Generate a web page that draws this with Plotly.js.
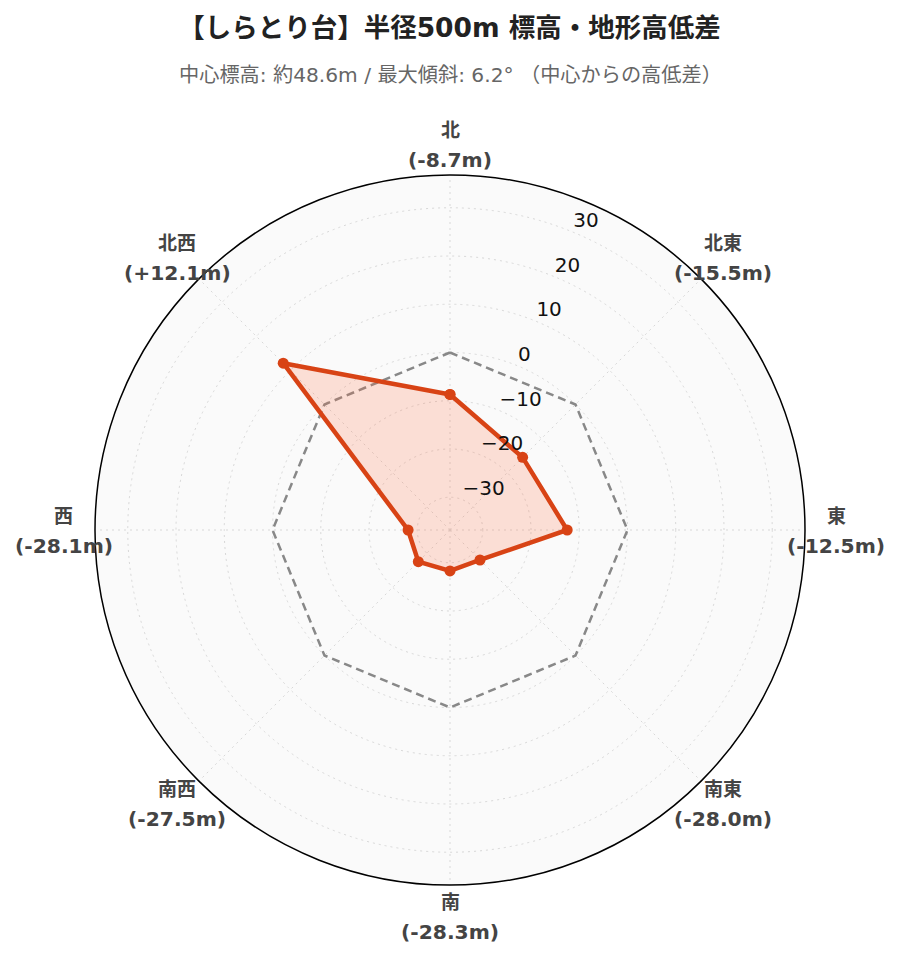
<!DOCTYPE html>
<html><head><meta charset="utf-8">
<script src="https://cdn.plot.ly/plotly-3.0.1.min.js"></script>
<style>body{margin:0;background:#fff}#chart{width:899px;height:962px}</style>
</head><body><div id="chart"></div>
<script>
const directions = ['北','北東','東','南東','南','南西','西','北西'];
const directionAngles = [0, 45, 90, 135, 180, 225, 270, 315];
const diffs = [-8.7, -15.5, -12.5, -28.0, -28.3, -27.5, -28.1, 12.1];
const reference = [0, 0, 0, 0, 0, 0, 0, 0];
const radialTicks = [-30, -20, -10, 0, 10, 20, 30];
const titleText = '【しらとり台】半径500m 標高・地形高低差';
const subtitleText = '中心標高: 約48.6m / 最大傾斜: 6.2° （中心からの高低差）';

const maxAbs = Math.max(...diffs.map(Math.abs));
const rMax = maxAbs * 1.3;
const tickLabelAngle = 22.5;

const fmt = v => '(' + (v > 0 ? '+' : '') + v.toFixed(1) + 'm)';
const close = a => a.concat([a[0]]);
const FONT = 'DejaVu Sans, Noto Sans CJK JP, sans-serif';

const traces = [
  {type:'scatterpolar', r: close(reference), theta: close(directionAngles), mode:'lines',
   line:{color:'#888', width:2.5, dash:'8px,5px'}, hoverinfo:'skip', showlegend:false},
  {type:'scatterpolar', r: close(diffs), theta: close(directionAngles), mode:'lines+markers',
   fill:'toself', fillcolor:'rgba(255,112,67,0.2)',
   line:{color:'#d84315', width:4.5}, marker:{color:'#d84315', size:11}, showlegend:false},
  {type:'scatterpolar', r: radialTicks, theta: radialTicks.map(() => tickLabelAngle), mode:'text',
   text: radialTicks.map(v => (v < 0 ? '\u2212' : '') + Math.abs(v)), textposition:'top right',
   textfont:{family:FONT, size:20, color:'#111'}, cliponaxis:false, hoverinfo:'skip', showlegend:false}
];

// direction labels placed just outside the polar circle (paper units: circle radius = 0.5)
const labelDist = 0.5437;
const annotations = [];
directions.forEach((d, i) => {
  const a = directionAngles[i] * Math.PI / 180;
  const x = 0.5 + labelDist * Math.sin(a), y = 0.5 + labelDist * Math.cos(a);
  const base = {xref:'paper', yref:'paper', x:x, y:y, xanchor:'center', yanchor:'middle',
    showarrow:false, font:{family:FONT, size:19, color:'#444'}};
  annotations.push(Object.assign({}, base, {text:'<b>' + d + '</b>', yshift:14}));
  annotations.push(Object.assign({}, base, {text:'<b>' + fmt(diffs[i]) + '</b>', yshift:-16, font:{family:FONT, size:20.3, color:'#444'}}));
});
annotations.push({text: subtitleText, xref:'paper', yref:'paper', x:0.5, y:1, yshift:100, showarrow:false,
    font:{size:20.2, color:'#666', family:FONT}, xanchor:'center', yanchor:'middle'});

const layout = {
  width: 899, height: 962,
  margin: {l:95, r:94, t:175, b:77},
  paper_bgcolor:'#fff',
  font:{family:FONT, color:'#222'},
  title:{text:'<b>' + titleText + '</b>', x:0.5, xanchor:'center', y:1 - 28/962, yref:'container', yanchor:'middle',
         font:{size:26.5, color:'#222', family:FONT}},
  annotations: annotations,
  polar:{
    bgcolor:'#fafafa',
    domain:{x:[0,1], y:[0,1]},
    radialaxis:{range:[-rMax, rMax], tickvals: radialTicks, angle:67.5, showticklabels:false, showline:false, ticks:'',
      gridcolor:'#d8d8d8', griddash:'2px,4px'},
    angularaxis:{type:'linear', thetaunit:'degrees', tickvals: directionAngles, rotation:90, direction:'clockwise',
      showticklabels:false, ticks:'', linecolor:'#000', linewidth:1.5, showline:true,
      gridcolor:'#d8d8d8', griddash:'2px,4px'}
  }
};
Plotly.newPlot('chart', traces, layout, {displayModeBar:false});
</script></body></html>
